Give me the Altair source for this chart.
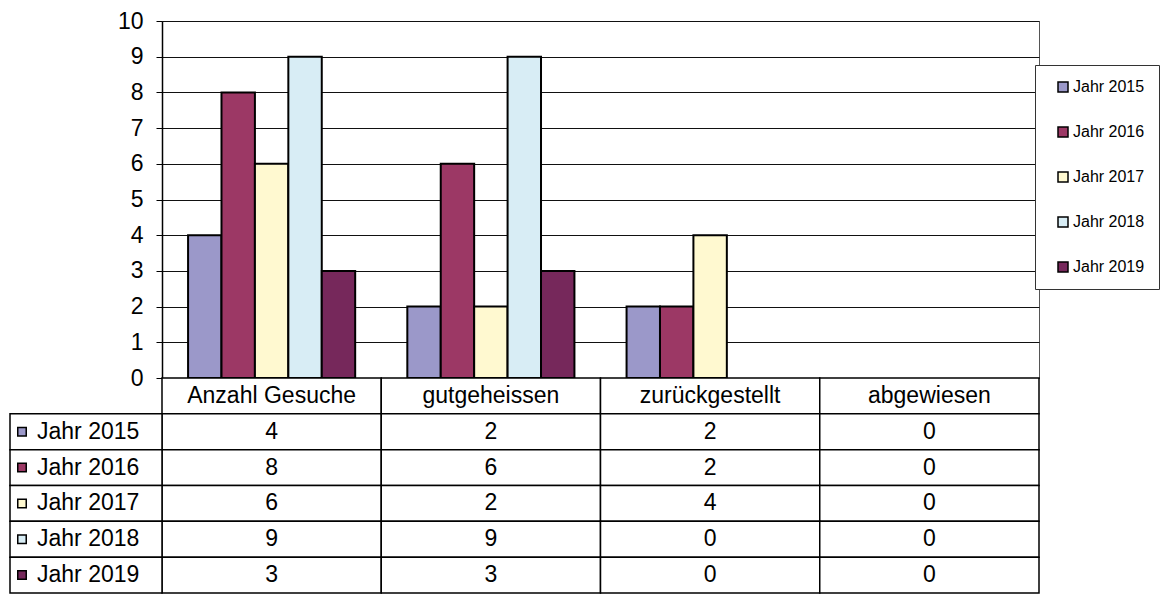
import altair as alt
import pandas as pd

categories = ["Anzahl Gesuche", "gutgeheissen", "zurückgestellt", "abgewiesen"]
series = ["Jahr 2015", "Jahr 2016", "Jahr 2017", "Jahr 2018", "Jahr 2019"]
v2015 = [4, 2, 2, 0]
v2016 = [8, 6, 2, 0]
v2017 = [6, 2, 4, 0]
v2018 = [9, 9, 0, 0]
v2019 = [3, 3, 0, 0]
colors = ["#9b98c9", "#9c3865", "#fff9d0", "#d8edf5", "#76285b"]
y_ticks = list(range(0, 11))

series_values = [v2015, v2016, v2017, v2018, v2019]
FONT = "Liberation Sans"
FS = 23
W, H, TH = 877, 357, 215

rows_long = []
for s, vals in zip(series, series_values):
    for c, v in zip(categories, vals):
        rows_long.append({"category": c, "series": s, "value": v})
df = pd.DataFrame(rows_long)

header_key = " "
row_domain = [header_key] + series
tab = [{"category": c, "row": header_key, "text": c} for c in categories]
tab += [{"category": r["category"], "row": r["series"], "text": str(r["value"])} for r in rows_long]
tdf = pd.DataFrame(tab)
ldf = pd.DataFrame({"row": series})

color_scale = alt.Scale(domain=series, range=colors)
x_scale = alt.Scale(domain=categories, paddingInner=0, paddingOuter=0)
y_row = alt.Y("row:N", sort=row_domain,
              scale=alt.Scale(domain=row_domain, paddingInner=0, paddingOuter=0), axis=None)

bars = alt.Chart(df).transform_filter("datum.value > 0").mark_bar(
    stroke="black", strokeWidth=2
).encode(
    x=alt.X("category:N", sort=categories, scale=x_scale, axis=None),
    xOffset=alt.XOffset("series:N", sort=series,
                        scale=alt.Scale(domain=series, paddingInner=0, paddingOuter=0.78)),
    y=alt.Y("value:Q", scale=alt.Scale(domain=[0, 10]),
            axis=alt.Axis(values=y_ticks, title=None, grid=True, gridColor="#111",
                          gridWidth=1, domainColor="black", domainWidth=1.5,
                          tickColor="black", tickSize=6, labelPadding=13,
                          labelFont=FONT, labelFontSize=FS, labelColor="black")),
    color=alt.Color("series:N", scale=color_scale,
                    legend=alt.Legend(title=None, orient="none", legendX=873, legendY=44,
                                      direction="vertical", symbolType="square",
                                      symbolSize=100, symbolStrokeColor="black",
                                      symbolStrokeWidth=1.5, labelFont=FONT,
                                      labelFontSize=16, labelColor="black",
                                      rowPadding=29, padding=14, strokeColor="#333",
                                      fillColor="white", symbolOffset=6, labelOffset=2,
                                      labelLimit=300)),
).properties(width=W, height=H, view=alt.ViewBackground(stroke="#555"))

cells = alt.Chart(tdf).mark_rect(fill="white", stroke="black", strokeWidth=1.5).encode(
    x=alt.X("category:N", sort=categories, scale=x_scale, axis=None),
    y=y_row,
)
label_cells = alt.Chart(ldf).mark_rect(fill="white", stroke="black", strokeWidth=1.5).encode(
    x=alt.value(-152), x2=alt.value(0), y=y_row,
)
swatches = alt.Chart(ldf).mark_point(shape="square", filled=True, size=72,
                                     stroke="black", strokeWidth=1.5, opacity=1).encode(
    x=alt.value(-140), y=y_row,
    fill=alt.Fill("row:N", scale=color_scale, legend=None),
)
labels = alt.Chart(ldf).mark_text(align="left", baseline="middle", font=FONT,
                                  fontSize=FS, color="black").encode(
    x=alt.value(-125), y=y_row, text="row:N",
)
texts = alt.Chart(tdf).mark_text(align="center", baseline="middle", font=FONT,
                                 fontSize=FS, color="black").encode(
    x=alt.X("category:N", sort=categories, scale=x_scale, axis=None),
    y=y_row, text="text:N",
)
table = alt.layer(cells, label_cells, swatches, labels, texts).properties(
    width=W, height=TH, view=alt.ViewBackground(stroke="transparent")
)

chart = alt.vconcat(bars, table, spacing=0, bounds="flush").resolve_scale(
    color="independent", x="independent"
).properties(
    padding={"left": 0, "top": 1, "right": 0, "bottom": 5}
).configure(background="white")

chart.save("out.html", embed_options={"renderer": "svg", "actions": False})
